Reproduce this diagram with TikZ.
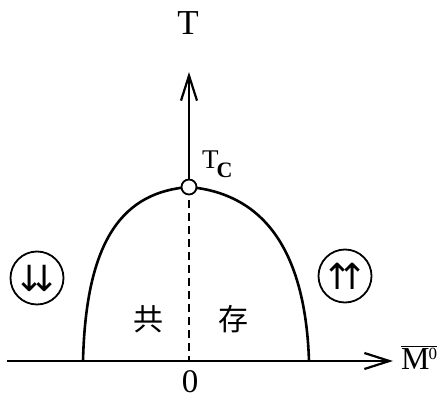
\documentclass[tikz,border=0pt]{standalone}
\usepackage{fontspec}
\setmainfont{Liberation Serif}
\newfontfamily\cjk{Noto Sans CJK SC}
\newfontfamily\arrowfont{DejaVu Sans}
\usetikzlibrary{arrows.meta, positioning}

\begin{document}
\begin{tikzpicture}[
  x=1pt, y=-1pt,
  every node/.style={align=center, inner sep=0pt},
  axis/.style={line width=2.2pt, -{Straight Barb[length=25pt, width=16pt, line width=2.2pt]}},
  dome/.style={line width=2.6pt},
  spin/.style={draw, circle, line width=1.8pt, minimum size=53pt, font=\arrowfont\fontsize{36}{36}\selectfont},
  lbl/.style={font=\fontsize{35}{35}\selectfont},
  word/.style={font=\cjk\fontsize{30}{30}\selectfont},
]
\useasboundingbox (0,0) rectangle (438,398);

% axes
\coordinate (origin) at (189,361);
\coordinate (xleft) at (7,361);
\coordinate (xtip) at (393,361);
\coordinate (ttip) at (189,72);
\coordinate (peak) at (189,187);
\coordinate (dl) at (83,361);
\coordinate (dr) at (309,361);

\draw[axis] (xleft) -- (xtip);
\draw[axis] (peak) -- (ttip);

\node[lbl, anchor=base] (tlab) at (188,35) {T};
\node[font=\fontsize{32}{32}\selectfont, anchor=base west] (mlab) at (401,369)
  {$\overline{\mbox{M\kern-1pt\raisebox{10pt}{\fontsize{17}{17}\selectfont 0}}}$};
\node[font=\fontsize{33}{33}\selectfont, anchor=base] (zero) at (190,392) {0};

% coexistence curve
\draw[dome] (dl) .. controls (86,238) and (124,192) .. (peak)
  .. controls (256,193) and (305,240) .. (dr);
\draw[line width=2pt, dash pattern=on 8pt off 5pt] (peak) -- (origin);

\node[circle, draw, fill=white, line width=1.8pt, minimum size=15pt] (tc) at (peak) {};
\node[font=\fontsize{27}{27}\selectfont, anchor=base west] (tclab) at (202,168)
  {T\kern-2pt\raisebox{-9pt}{\fontsize{22}{22}\selectfont\bfseries C}};

% phases
\node[spin] (down) at (37,278) {↓\kern-16pt↓};
\node[spin] (up) at (345,276) {↑\kern-16pt↑};
\node[word] (gong) at (148,319) {共};
\node[word] (cun) at (233,319) {存};

\end{tikzpicture}
\end{document}
